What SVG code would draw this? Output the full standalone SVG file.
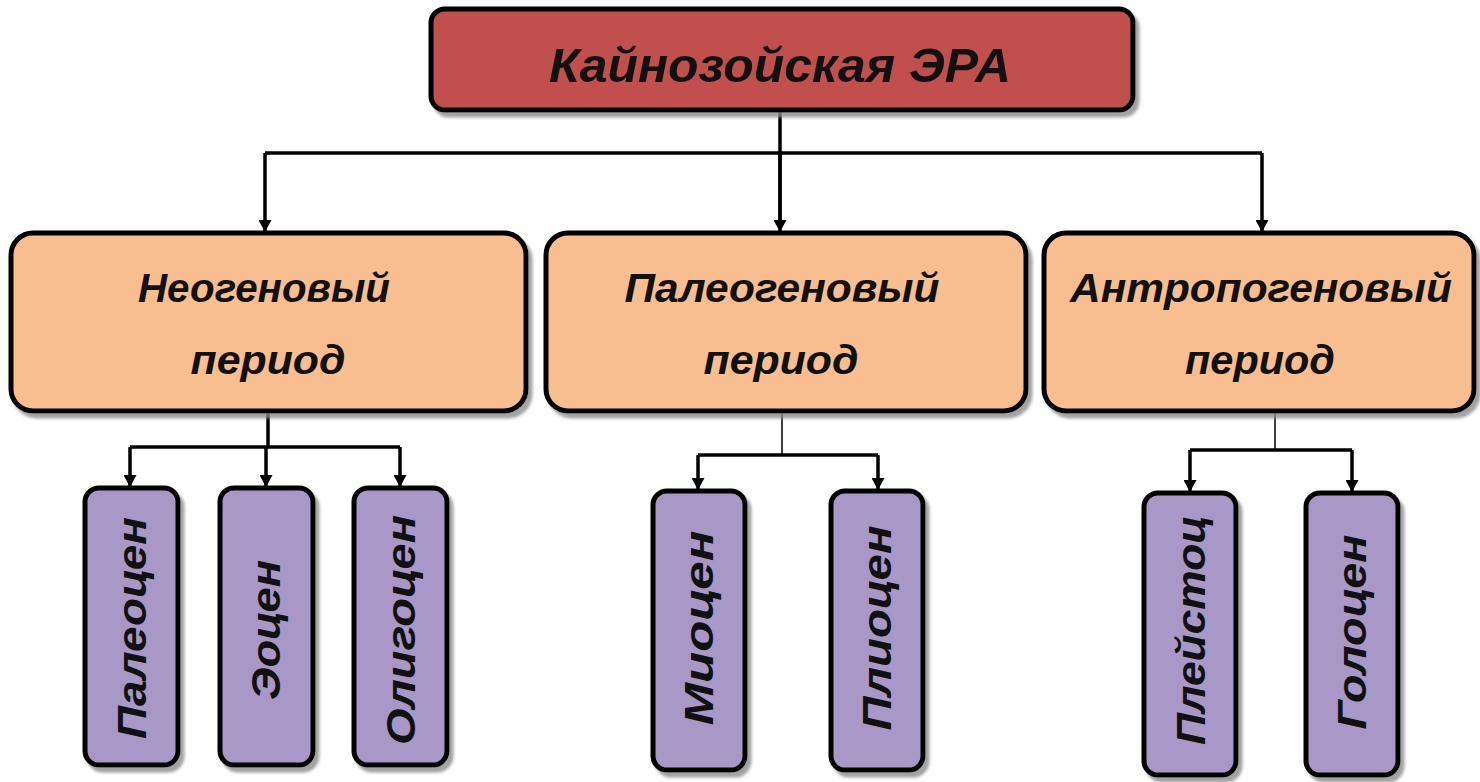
<svg xmlns="http://www.w3.org/2000/svg" width="1480" height="782" viewBox="0 0 1480 782">
<defs>
<marker id="arr" markerWidth="13" markerHeight="13" refX="11" refY="6.5" orient="auto" markerUnits="userSpaceOnUse" viewBox="0 0 13 13">
<path d="M0,0 L12,6.5 L0,13 Z" fill="#000"/>
</marker>
<filter id="sh" x="-10%" y="-10%" width="130%" height="130%">
<feDropShadow dx="4" dy="5" stdDeviation="1.5" flood-color="#8a8a8a" flood-opacity="0.8"/>
</filter>
<style>
.box{stroke:#000;stroke-width:5;filter:url(#sh)}
.era{fill:#C0504D}
.per{fill:#F9BE8F}
.ep{fill:#A898C8}
.t{font-family:"Liberation Sans",Arial,sans-serif;font-weight:bold;font-style:italic;fill:#111}
.c{fill:none;stroke:#000;stroke-width:3.5}
</style>
</defs>
<rect width="1480" height="782" fill="#fff"/>
<g id="connectors">
<path class="c" d="M780,110 V228"/>
<path class="c" d="M265,153 H1262"/>
<path class="c" d="M265,153 V231" marker-end="url(#arr)"/>
<path class="c" d="M780,153 V231" marker-end="url(#arr)"/>
<path class="c" d="M1262,153 V231" marker-end="url(#arr)"/>
<path class="c" d="M268,412 V447"/>
<path class="c" d="M130,447 H400"/>
<path class="c" d="M130,447 V486" marker-end="url(#arr)"/>
<path class="c" d="M266,447 V486" marker-end="url(#arr)"/>
<path class="c" d="M400,447 V486" marker-end="url(#arr)"/>
<path class="c" d="M782,412 V455" style="stroke-width:1.5"/>
<path class="c" d="M698,455 H878"/>
<path class="c" d="M698,455 V489" marker-end="url(#arr)"/>
<path class="c" d="M878,455 V489" marker-end="url(#arr)"/>
<path class="c" d="M1275,412 V450" style="stroke-width:1.5"/>
<path class="c" d="M1190,450 H1352"/>
<path class="c" d="M1190,450 V491" marker-end="url(#arr)"/>
<path class="c" d="M1352,450 V491" marker-end="url(#arr)"/>
</g>
<g id="era">
<rect class="box era" x="431" y="9" width="702" height="101" rx="14"/>
<text class="t" x="780" y="82" text-anchor="middle" font-size="48" textLength="462" lengthAdjust="spacingAndGlyphs">Кайнозойская ЭРА</text>
</g>
<g id="neogene">
<rect class="box per" x="11" y="233" width="515" height="178" rx="22"/>
<text class="t" x="264" y="302" text-anchor="middle" font-size="40" textLength="252" lengthAdjust="spacingAndGlyphs">Неогеновый</text>
<text class="t" x="268" y="374" text-anchor="middle" font-size="40" textLength="155" lengthAdjust="spacingAndGlyphs">период</text>
</g>
<g id="paleogene">
<rect class="box per" x="546" y="233" width="480" height="178" rx="22"/>
<text class="t" x="782" y="302" text-anchor="middle" font-size="40" textLength="315" lengthAdjust="spacingAndGlyphs">Палеогеновый</text>
<text class="t" x="781" y="374" text-anchor="middle" font-size="40" textLength="155" lengthAdjust="spacingAndGlyphs">период</text>
</g>
<g id="anthropogene">
<rect class="box per" x="1044" y="233" width="430" height="178" rx="22"/>
<text class="t" x="1261" y="302" text-anchor="middle" font-size="40" textLength="382" lengthAdjust="spacingAndGlyphs">Антропогеновый</text>
<text class="t" x="1260" y="374" text-anchor="middle" font-size="40" textLength="150" lengthAdjust="spacingAndGlyphs">период</text>
</g>
<g id="paleocene">
<rect class="box ep" x="85" y="488" width="93" height="277" rx="14"/>
<text class="t" transform="translate(146,628) rotate(-90)" text-anchor="middle" font-size="40" textLength="222" lengthAdjust="spacingAndGlyphs">Палеоцен</text>
</g>
<g id="eocene">
<rect class="box ep" x="220" y="488" width="93" height="277" rx="14"/>
<text class="t" transform="translate(280,630) rotate(-90)" text-anchor="middle" font-size="40" textLength="140" lengthAdjust="spacingAndGlyphs">Эоцен</text>
</g>
<g id="oligocene">
<rect class="box ep" x="354" y="488" width="93" height="277" rx="14"/>
<text class="t" transform="translate(415,630) rotate(-90)" text-anchor="middle" font-size="40" textLength="230" lengthAdjust="spacingAndGlyphs">Олигоцен</text>
</g>
<g id="miocene">
<rect class="box ep" x="653" y="491" width="92" height="279" rx="14"/>
<text class="t" transform="translate(713,628) rotate(-90)" text-anchor="middle" font-size="40" textLength="195" lengthAdjust="spacingAndGlyphs">Миоцен</text>
</g>
<g id="pliocene">
<rect class="box ep" x="831" y="491" width="92" height="279" rx="14"/>
<text class="t" transform="translate(891,628) rotate(-90)" text-anchor="middle" font-size="40" textLength="205" lengthAdjust="spacingAndGlyphs">Плиоцен</text>
</g>
<g id="pleistocene">
<rect class="box ep" x="1144" y="493" width="92" height="282" rx="14"/>
<text class="t" transform="translate(1205,630) rotate(-90)" text-anchor="middle" font-size="40" textLength="230" lengthAdjust="spacingAndGlyphs">Плейстоц</text>
</g>
<g id="holocene">
<rect class="box ep" x="1306" y="493" width="92" height="282" rx="14"/>
<text class="t" transform="translate(1366,632) rotate(-90)" text-anchor="middle" font-size="40" textLength="195" lengthAdjust="spacingAndGlyphs">Голоцен</text>
</g>
</svg>
